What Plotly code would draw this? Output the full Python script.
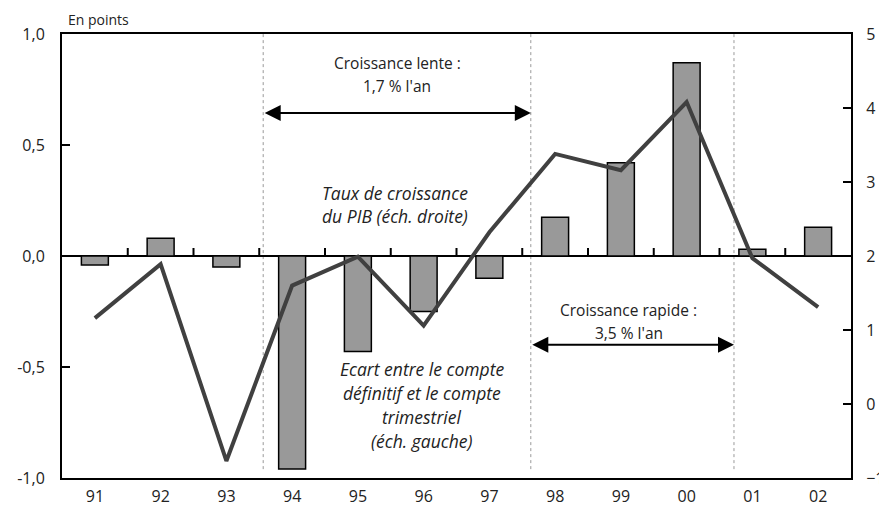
import plotly.graph_objects as go

years = ["91", "92", "93", "94", "95", "96", "97", "98", "99", "00", "01", "02"]
ecart = [-0.04, 0.08, -0.05, -0.96, -0.43, -0.25, -0.10, 0.175, 0.42, 0.87, 0.03, 0.13]
pib = [1.16, 1.89, -0.77, 1.60, 1.99, 1.06, 2.32, 3.38, 3.16, 4.08, 1.97, 1.31]
left_ticks = [-1.0, -0.5, 0.0, 0.5, 1.0]
left_labels = ["-1,0", "-0,5", "0,0", "0,5", "1,0"]
right_ticks = [-1, 0, 1, 2, 3, 4, 5]

xs = list(range(len(years)))
FONT = "Open Sans"

fig = go.Figure()
fig.add_trace(go.Bar(x=xs, y=ecart, width=0.41,
                     marker=dict(color="#999999", line=dict(color="black", width=1.5)),
                     yaxis="y", showlegend=False))
fig.add_trace(go.Scatter(x=xs, y=pib, mode="lines", yaxis="y2",
                         line=dict(color="#404040", width=4), showlegend=False))

# small tick marks on the zero line at category boundaries (one path)
tick_path = " ".join(f"M {i - 0.5},0 L {i - 0.5},0.036" for i in range(1, len(years)))
fig.add_shape(type="path", path=tick_path, xref="x", yref="y",
              line=dict(color="black", width=2), layer="above")

# period separators
seps = [2.56, 6.63, 9.72]
for s in seps:
    fig.add_shape(type="line", x0=s, x1=s, y0=-0.96, y1=1.0, xref="x", yref="y",
                  line=dict(color="#999999", width=1, dash="dot"), layer="below")

# arrows
def darrow(x0, x1, y):
    fig.add_annotation(x=x1, y=y, ax=x0, ay=y, xref="x", yref="y", axref="x", ayref="y",
                       text="", showarrow=True, arrowhead=2, arrowsize=1.6, arrowwidth=2,
                       arrowside="end+start", arrowcolor="black", standoff=0, startstandoff=0)

darrow(seps[0], seps[1], 0.644)
darrow(seps[1], seps[2], -0.40)

def txt(x, y, s, italic=False):
    fig.add_annotation(x=x, y=y, xref="x", yref="y", text=s, showarrow=False,
                       font=dict(family=FONT, size=17.5 if italic else 15.5, color="#222",
                                 style="italic" if italic else "normal"),
                       xanchor="center", yanchor="middle")

txt(4.6, 0.869, "Croissance lente :")
txt(4.6, 0.766, "1,7 % l'an")
txt(4.56, 0.284, "Taux de croissance", True)
txt(4.56, 0.180, "du PIB (éch. droite)", True)
txt(8.12, -0.243, "Croissance rapide :")
txt(8.12, -0.347, "3,5 % l'an")
for i, line in enumerate(["Ecart entre le compte", "définitif et le compte", "trimestriel", "(éch. gauche)"]):
    txt(4.97, -0.509 - i * 0.108, line, True)

fig.add_annotation(x=0, y=1.0, xref="x domain", yref="paper", yshift=3,
                   text="En points", showarrow=False, xanchor="left", yanchor="bottom",
                   xshift=4, font=dict(family=FONT, size=14, color="#222"))

fig.update_layout(
    template="none",
    width=879, height=516,
    margin=dict(l=62, r=28, t=34, b=38, autoexpand=False),
    plot_bgcolor="white", paper_bgcolor="white",
    font=dict(family=FONT, size=16, color="#222"),
    xaxis=dict(range=[-0.5, 11.5], tickvals=xs, ticktext=years, ticks="",
               showline=True, mirror=True, linecolor="black", linewidth=2,
               showgrid=False, zeroline=False, automargin=False, ticklabelstandoff=3),
    yaxis=dict(range=[-1, 1], tickvals=left_ticks, ticktext=left_labels, ticks="inside",
               ticklen=8, tickwidth=2, tickcolor="black", showline=True, linecolor="black",
               linewidth=2, showgrid=False, zeroline=True, zerolinecolor="black",
               zerolinewidth=1.5, automargin=False, ticklabelstandoff=12),
    yaxis2=dict(range=[-1, 5], tickvals=right_ticks, overlaying="y", side="right",
                ticks="inside", ticklen=8, tickwidth=2, tickcolor="black", showline=True,
                linecolor="black", linewidth=2, showgrid=False, zeroline=False,
                automargin=False, ticklabelstandoff=10),
)

fig.write_html("out.html", config={"displayModeBar": False},
               post_script="document.body.style.margin='0';")
